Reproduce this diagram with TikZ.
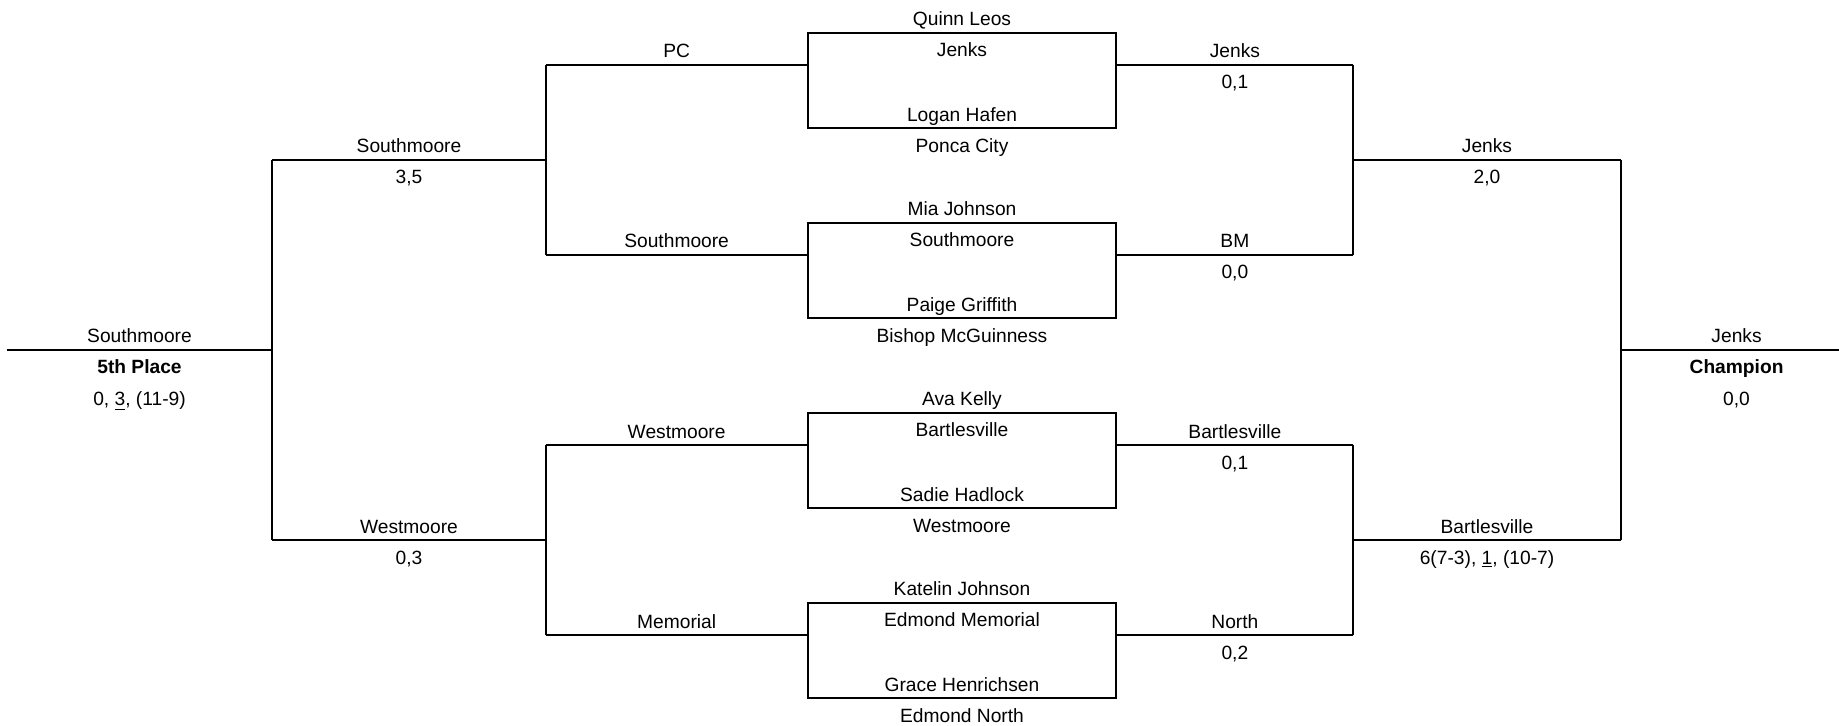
\documentclass[tikz,border=0pt]{standalone}
\usepackage{fontspec}
\setmainfont{Liberation Sans}
\usetikzlibrary{positioning}

\tikzset{
  team/.style={anchor=base, inner sep=0pt, font=\fontsize{9.6}{11}\selectfont},
  toplbl/.style={team, yshift=3.5pt},
  sublbl/.style={team, yshift=-12pt},
  subsub/.style={team, yshift=-28pt},
  wire/.style={line width=0.75pt},
  match/.style={draw, line width=0.75pt, minimum width=154pt, minimum height=47.5pt, inner sep=0pt}
}

\begin{document}
\begin{tikzpicture}[x=0.5pt, y=-0.5pt]
\useasboundingbox (0,0) rectangle (1839,726);

% quarter final boxes
\node (m1) [match] at (962,80.5) {};
\node (m2) [match] at (962,270.5) {};
\node (m3) [match] at (962,460.5) {};
\node (m4) [match] at (962,650.5) {};

\node (m1a) [toplbl] at (m1.north) {Quinn Leos};
\node (m1b) [sublbl] at (m1.north) {Jenks};
\node (m1c) [toplbl] at (m1.south) {Logan Hafen};
\node (m1d) [sublbl] at (m1.south) {Ponca City};

\node (m2a) [toplbl] at (m2.north) {Mia Johnson};
\node (m2b) [sublbl] at (m2.north) {Southmoore};
\node (m2c) [toplbl] at (m2.south) {Paige Griffith};
\node (m2d) [sublbl] at (m2.south) {Bishop McGuinness};

\node (m3a) [toplbl] at (m3.north) {Ava Kelly};
\node (m3b) [sublbl] at (m3.north) {Bartlesville};
\node (m3c) [toplbl] at (m3.south) {Sadie Hadlock};
\node (m3d) [sublbl] at (m3.south) {Westmoore};

\node (m4a) [toplbl] at (m4.north) {Katelin Johnson};
\node (m4b) [sublbl] at (m4.north) {Edmond Memorial};
\node (m4c) [toplbl] at (m4.south) {Grace Henrichsen};
\node (m4d) [sublbl] at (m4.south) {Edmond North};

% bracket corners
\coordinate (l1) at (546,65);
\coordinate (l2) at (546,255);
\coordinate (l3) at (546,445);
\coordinate (l4) at (546,635);
\coordinate (r1) at (1353,65);
\coordinate (r2) at (1353,255);
\coordinate (r3) at (1353,445);
\coordinate (r4) at (1353,635);
\coordinate (ls1) at (272,160);
\coordinate (ls2) at (272,540);
\coordinate (rs1) at (1621,160);
\coordinate (rs2) at (1621,540);
\coordinate (lfin) at (7,350);
\coordinate (rfin) at (1839,350);

% left side
\draw[wire] (l1) -- node[toplbl] (pc) {PC} (m1.west |- l1);
\draw[wire] (l2) -- node[toplbl] (sm) {Southmoore} (m2.west |- l2);
\draw[wire] (l3) -- node[toplbl] (wm) {Westmoore} (m3.west |- l3);
\draw[wire] (l4) -- node[toplbl] (mem) {Memorial} (m4.west |- l4);
\draw[wire] (l1) -- (l2);
\draw[wire] (l3) -- (l4);
\draw[wire] (ls1) -- node[toplbl] (lsa) {Southmoore} node[sublbl] (lsas) {3,5} (l1 |- ls1);
\draw[wire] (ls2) -- node[toplbl] (lsb) {Westmoore} node[sublbl] (lsbs) {0,3} (l3 |- ls2);
\draw[wire] (ls1) -- (ls2);
\draw[wire] (lfin) -- node[toplbl] (fifth) {Southmoore}
  node[sublbl] (fifthl) {\textbf{5th Place}}
  node[subsub] (fifths) {0, \underline{3}, (11-9)} (ls1 |- lfin);

% right side
\draw[wire] (m1.east |- r1) -- node[toplbl] (jk) {Jenks} node[sublbl] (jks) {0,1} (r1);
\draw[wire] (m2.east |- r2) -- node[toplbl] (bm) {BM} node[sublbl] (bms) {0,0} (r2);
\draw[wire] (m3.east |- r3) -- node[toplbl] (bv) {Bartlesville} node[sublbl] (bvs) {0,1} (r3);
\draw[wire] (m4.east |- r4) -- node[toplbl] (no) {North} node[sublbl] (nos) {0,2} (r4);
\draw[wire] (r1) -- (r2);
\draw[wire] (r3) -- (r4);
\draw[wire] (r1 |- rs1) -- node[toplbl] (rsa) {Jenks} node[sublbl] (rsas) {2,0} (rs1);
\draw[wire] (r3 |- rs2) -- node[toplbl] (rsb) {Bartlesville} node[sublbl] (rsbs) {6(7-3), \underline{1}, (10-7)} (rs2);
\draw[wire] (rs1) -- (rs2);
\draw[wire] (rs1 |- rfin) -- node[toplbl, pos=0.53] (champ) {Jenks}
  node[sublbl, pos=0.53] (champl) {\textbf{Champion}}
  node[subsub, pos=0.53] (champs) {0,0} (rfin);
\end{tikzpicture}
\end{document}
